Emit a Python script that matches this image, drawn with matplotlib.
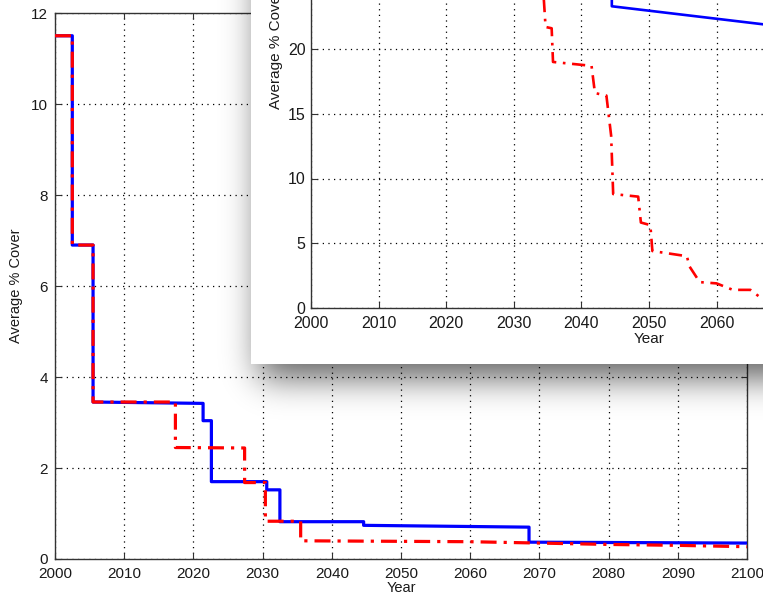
import numpy as np
import matplotlib
matplotlib.use('Agg')
import matplotlib.pyplot as plt
from math import erf

plt.rcParams['font.family'] = ['Liberation Sans', 'DejaVu Sans']

# main figure: average cover per scenario (step curves)
yr_solid = [2000, 2002.5, 2002.5, 2005.5, 2005.5, 2021.4, 2021.4, 2022.6, 2022.6,
            2030.6, 2030.6, 2032.5, 2032.5, 2044.6, 2044.6, 2068.5, 2068.5, 2100]
cov_solid = [11.5, 11.5, 6.9, 6.9, 3.45, 3.42, 3.04, 3.04, 1.70,
             1.70, 1.52, 1.52, 0.82, 0.82, 0.74, 0.70, 0.37, 0.35]
yr_dash = [2000, 2002.5, 2002.5, 2005.5, 2005.5, 2017.4, 2017.4, 2027.4, 2027.4,
           2030.4, 2030.4, 2035.5, 2035.5, 2060, 2070, 2080, 2090, 2100]
cov_dash = [11.5, 11.5, 6.9, 6.9, 3.45, 3.45, 2.45, 2.44, 1.68,
            1.68, 0.83, 0.83, 0.40, 0.38, 0.35, 0.32, 0.30, 0.27]

# zoomed panel: second case
yr_in_solid = [2044.5, 2044.5, 2067.0]
cov_in_solid = [30.0, 23.3, 21.9]
yr_in_dash = [2034.3, 2034.7, 2035.6, 2035.8, 2041.5, 2042.0, 2043.7, 2044.4, 2044.7,
              2048.4, 2048.8, 2050.2, 2050.5, 2055.6, 2056.0, 2057.5, 2060.0, 2062.4,
              2065.0, 2067.0]
cov_in_dash = [25.0, 21.7, 21.6, 19.0, 18.7, 16.6, 16.4, 13.3, 8.8,
               8.6, 6.6, 6.4, 4.4, 4.0, 3.2, 2.0, 1.9, 1.4,
               1.4, 0.6]
in_xticks = [2000, 2010, 2020, 2030, 2040, 2050, 2060]
in_yticks = [0, 5, 10, 15, 20]

W, H = 763, 598
fig = plt.figure(figsize=(W / 100, H / 100), dpi=100)
fig.patch.set_facecolor('white')
txt = '#1a1a1a'
grid_kw = dict(color='black', linestyle=(0, (1, 3.5)), linewidth=0.9)


def style_axes(ax, xpad, ypad):
    ax.tick_params(direction='in', length=4, width=0.8, labelsize=11,
                   colors='#333333', labelcolor=txt)
    ax.tick_params(axis='x', pad=xpad)
    ax.tick_params(axis='y', pad=ypad)
    for s in ax.spines.values():
        s.set_color('#333333')
        s.set_linewidth(1.0)
    ax.grid(True, **grid_kw)
    ax.set_axisbelow(True)


# ---- main axes
ax = fig.add_axes([55 / W, 39 / H, 692 / W, 546 / H])
ax.plot(yr_solid, cov_solid, color='#0000ff', linewidth=2.3, zorder=3)
ax.plot(yr_dash, cov_dash, color='#ff0000', linewidth=2.3,
        linestyle=(0, (5, 2.2, 1, 2.2)), zorder=4)
ax.set_xlim(2000, 2100)
ax.set_ylim(0, 12)
ax.set_xticks(np.arange(2000, 2101, 10))
ax.set_yticks(np.arange(0, 13, 2))
ax.tick_params(top=True, right=True)
style_axes(ax, 6, 5)
ax.set_xlabel('Year', fontsize=10.5, color=txt)
ax.set_ylabel('Average % Cover', fontsize=10.5, color=txt)
ax.xaxis.set_label_coords(0.5, -0.041)
ax.yaxis.set_label_coords(-0.046, 0.5)
ax.set_zorder(1)

# ---- drop shadow behind the zoomed panel
px = np.arange(W) + 0.5
py = np.arange(H) + 0.5
sig = 17.0
cdf = np.vectorize(lambda v: 0.5 * (1 + erf(v / (sig * np.sqrt(2)))))
fx = cdf(px - 259) * cdf(W + 60 - px)
fy = cdf(py + 60) * cdf(378 - py)
alpha = 0.62 * np.outer(fy, fx)
shadow = np.zeros((H, W, 4))
shadow[..., 3] = alpha
ax_sh = fig.add_axes([0, 0, 1, 1])
ax_sh.imshow(shadow, extent=(0, W, H, 0), interpolation='bilinear', aspect='auto')
ax_sh.set_xlim(0, W)
ax_sh.set_ylim(H, 0)
ax_sh.axis('off')
ax_sh.patch.set_alpha(0)
ax_sh.set_zorder(2)

# ---- white panel holding the zoomed chart
panel = fig.add_axes([251 / W, 234 / H, (W - 251) / W, 364 / H])
panel.set_facecolor('white')
panel.set_xticks([])
panel.set_yticks([])
for s in panel.spines.values():
    s.set_visible(False)
panel.set_zorder(3)

ax2 = fig.add_axes([311 / W, 290 / H, 676 / W, 518 / H])
ax2.patch.set_alpha(0)
ax2.plot(yr_in_solid, cov_in_solid, color='#0000ff', linewidth=1.9, zorder=3)
ax2.plot(yr_in_dash, cov_in_dash, color='#ff0000', linewidth=1.9,
         linestyle=(0, (5, 2.5, 1, 2.5)), zorder=4)
ax2.set_xlim(2000, 2100)
ax2.set_ylim(0, 40)
ax2.set_xticks(in_xticks)
ax2.set_yticks(in_yticks)
style_axes(ax2, 6, 4)
ax2.tick_params(labelsize=11.5)
ax2.set_xlabel('Year', fontsize=11, color=txt)
ax2.set_ylabel('Average % Cover', fontsize=11, color=txt)
ax2.xaxis.set_label_coords(0.5, -0.046)
ax2.yaxis.set_label_coords(-0.041, 0.5)
ax2.set_zorder(4)

fig.savefig('out.png', dpi=100)
